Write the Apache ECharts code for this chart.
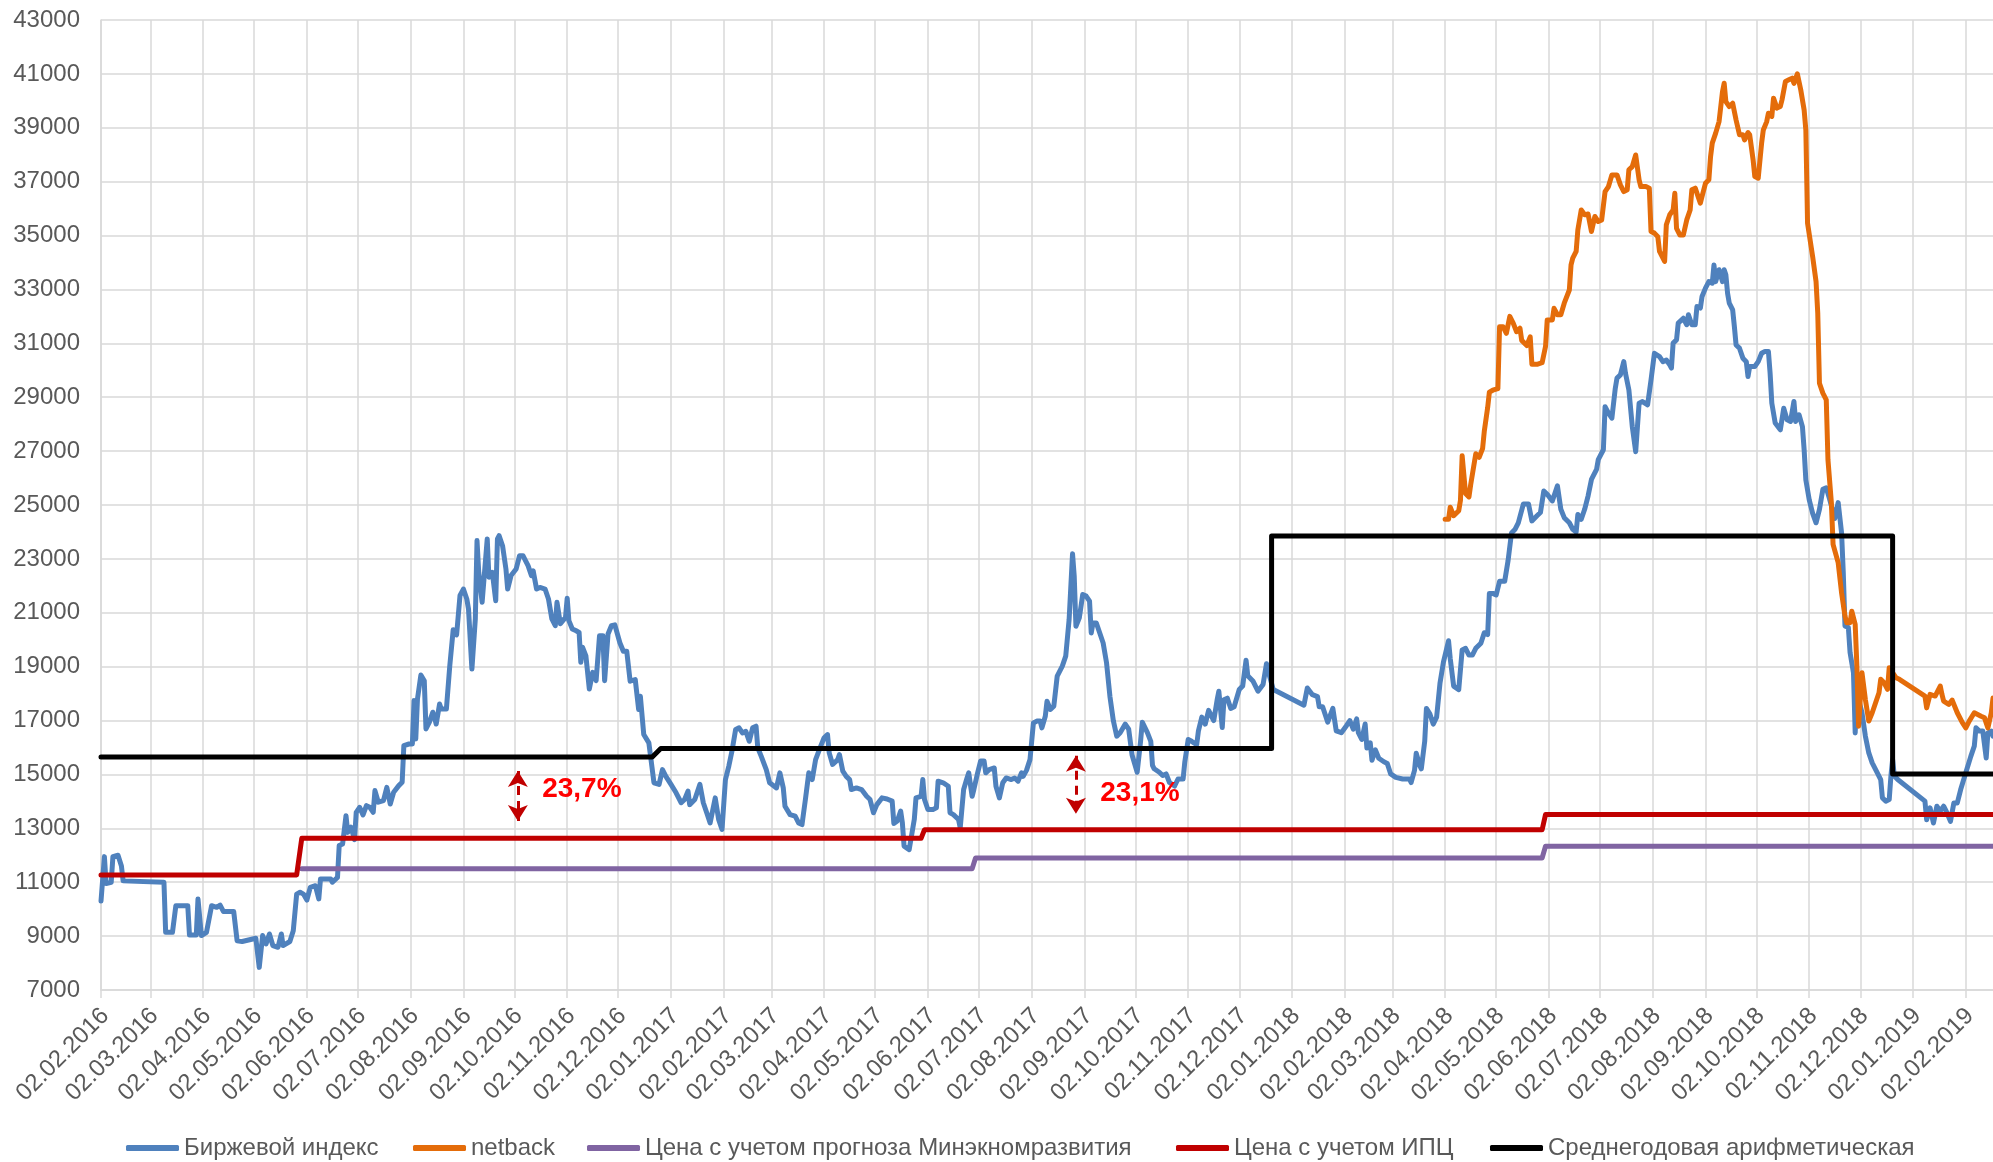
<!DOCTYPE html>
<html><head><meta charset="utf-8">
<script src="https://cdn.jsdelivr.net/npm/echarts@6/dist/echarts.min.js"></script>
<style>html,body{margin:0;padding:0;background:#fff}#c{width:1993px;height:1162px}</style>
</head><body><div id="c"></div>
<script>
const xTickLabels = ['02.02.2016','02.03.2016','02.04.2016','02.05.2016','02.06.2016','02.07.2016','02.08.2016','02.09.2016','02.10.2016','02.11.2016','02.12.2016',
'02.01.2017','02.02.2017','02.03.2017','02.04.2017','02.05.2017','02.06.2017','02.07.2017','02.08.2017','02.09.2017','02.10.2017','02.11.2017','02.12.2017',
'02.01.2018','02.02.2018','02.03.2018','02.04.2018','02.05.2018','02.06.2018','02.07.2018','02.08.2018','02.09.2018','02.10.2018','02.11.2018','02.12.2018',
'02.01.2019','02.02.2019'];
const yTickValues = [7000,9000,11000,13000,15000,17000,19000,21000,23000,25000,27000,29000,31000,33000,35000,37000,39000,41000,43000];
const xRange = ['2016-02-02','2019-02-18'];

const seriesNames = ['Биржевой индекс','netback','Цена с учетом прогноза Минэкномразвития','Цена с учетом ИПЦ','Среднегодовая арифметическая'];

const birzhevoyIndex = [
["2016-02-02",10300],["2016-02-04",11950],["2016-02-05",10950],["2016-02-08",11000],["2016-02-09",11950],["2016-02-12",12000],["2016-02-14",11600],["2016-02-15",11050],
["2016-03-10",11000],["2016-03-11",9140],["2016-03-15",9140],["2016-03-17",10130],["2016-03-24",10130],["2016-03-25",9040],["2016-03-29",9040],["2016-03-30",10380],
["2016-04-01",9020],["2016-04-04",9140],["2016-04-07",10130],["2016-04-10",10070],["2016-04-12",10150],["2016-04-14",9910],["2016-04-20",9910],["2016-04-22",8830],["2016-04-25",8800],
["2016-05-03",8920],["2016-05-05",7840],["2016-05-07",9020],["2016-05-09",8710],["2016-05-11",9080],["2016-05-13",8650],["2016-05-16",8585],["2016-05-18",9080],["2016-05-19",8650],["2016-05-23",8800],["2016-05-25",9200],["2016-05-27",10560],["2016-05-29",10630],["2016-05-31",10560],
["2016-06-02",10340],["2016-06-04",10810],["2016-06-07",10870],["2016-06-09",10380],["2016-06-10",11120],["2016-06-16",11120],["2016-06-17",11000],["2016-06-20",11180],["2016-06-21",12360],["2016-06-23",12420],["2016-06-25",13470],["2016-06-26",12850],["2016-06-28",13040],["2016-06-30",12580],
["2016-07-01",13595],["2016-07-03",13780],["2016-07-05",13500],["2016-07-07",13840],["2016-07-09",13780],["2016-07-11",13595],["2016-07-12",14400],["2016-07-14",13970],["2016-07-17",14030],["2016-07-19",14520],["2016-07-21",13900],["2016-07-22",13870],["2016-07-23",14340],["2016-07-26",14585],["2016-07-28",14710],["2016-07-29",16070],
["2016-08-01",16130],["2016-08-03",16130],["2016-08-04",17740],["2016-08-05",16320],["2016-08-06",17800],["2016-08-08",18690],["2016-08-10",18480],["2016-08-11",16690],["2016-08-13",16940],["2016-08-15",17310],["2016-08-16",17120],["2016-08-17",16870],["2016-08-19",17615],["2016-08-20",17430],["2016-08-23",17430],["2016-08-25",19040],["2016-08-27",20370],["2016-08-29",20180],["2016-08-31",21640],
["2016-09-02",21880],["2016-09-04",21510],["2016-09-05",21140],["2016-09-07",18910],["2016-09-09",20770],["2016-09-10",23680],["2016-09-11",22500],["2016-09-13",21390],["2016-09-14",21360],["2016-09-16",23740],["2016-09-17",22320],["2016-09-19",22500],["2016-09-21",21450],["2016-09-22",23740],["2016-09-23",23860],["2016-09-25",23490],["2016-09-27",22625],["2016-09-28",21880],["2016-09-30",22380],
["2016-10-03",22625],["2016-10-05",23120],["2016-10-07",23120],["2016-10-10",22750],["2016-10-12",22380],["2016-10-13",22560],["2016-10-15",21880],["2016-10-17",21940],["2016-10-20",21880],["2016-10-22",21510],["2016-10-24",20770],["2016-10-26",20520],["2016-10-27",21390],["2016-10-29",20590],
["2016-11-01",20830],["2016-11-02",21540],["2016-11-03",20710],["2016-11-05",20400],["2016-11-07",20340],["2016-11-09",20270],["2016-11-10",19160],["2016-11-11",19720],["2016-11-13",19400],["2016-11-15",18170],["2016-11-17",18790],["2016-11-19",18480],["2016-11-21",20150],["2016-11-23",20150],["2016-11-24",18480],["2016-11-26",20210],["2016-11-28",20520],["2016-11-30",20550],
["2016-12-03",19880],["2016-12-05",19570],["2016-12-07",19570],["2016-12-09",18460],["2016-12-10",18460],["2016-12-12",18520],["2016-12-14",17410],["2016-12-15",17900],["2016-12-17",16480],["2016-12-20",16170],["2016-12-21",15680],["2016-12-23",14690],["2016-12-26",14630],["2016-12-28",15180],["2016-12-30",14930],
["2017-01-02",14630],["2017-01-05",14320],["2017-01-08",13950],["2017-01-10",14070],["2017-01-12",14380],["2017-01-13",13880],["2017-01-16",14070],["2017-01-19",14630],["2017-01-21",13950],["2017-01-23",13580],["2017-01-25",13200],["2017-01-28",14130],["2017-01-30",13330],
["2017-02-01",12960],["2017-02-03",14810],["2017-02-05",15310],["2017-02-07",15920],["2017-02-09",16670],["2017-02-11",16730],["2017-02-13",16540],["2017-02-15",16600],["2017-02-17",16230],["2017-02-19",16730],["2017-02-21",16790],["2017-02-22",15990],["2017-02-24",15680],["2017-02-27",15180],
["2017-03-01",14690],["2017-03-05",14500],["2017-03-07",15060],["2017-03-09",14500],["2017-03-10",13820],["2017-03-13",13510],["2017-03-16",13450],["2017-03-18",13200],["2017-03-20",13140],["2017-03-22",14070],["2017-03-24",15060],["2017-03-26",14810],["2017-03-28",15550],["2017-03-31",16050],
["2017-04-02",16360],["2017-04-04",16480],["2017-04-05",15800],["2017-04-07",15370],["2017-04-10",15550],["2017-04-11",15740],["2017-04-13",15120],["2017-04-15",14930],["2017-04-17",14810],["2017-04-18",14440],["2017-04-21",14500],["2017-04-24",14440],["2017-04-27",14190],["2017-04-29",14070],
["2017-05-01",13580],["2017-05-03",13880],["2017-05-06",14130],["2017-05-09",14090],["2017-05-12",14010],["2017-05-13",13180],["2017-05-15",13270],["2017-05-17",13640],["2017-05-18",13200],["2017-05-19",12340],["2017-05-20",12270],["2017-05-22",12210],["2017-05-23",12210],["2017-05-25",13330],["2017-05-26",14130],["2017-05-29",14190],["2017-05-30",14810],["2017-05-31",14070],
["2017-06-02",13700],["2017-06-05",13700],["2017-06-07",13760],["2017-06-08",14750],["2017-06-11",14690],["2017-06-14",14560],["2017-06-15",13580],["2017-06-17",13510],["2017-06-18",13450],["2017-06-20",13330],["2017-06-21",13020],["2017-06-23",14440],["2017-06-25",14870],["2017-06-26",15060],["2017-06-28",14190],["2017-06-29",14440],
["2017-07-01",15000],["2017-07-03",15500],["2017-07-05",15500],["2017-07-06",15060],["2017-07-08",15180],["2017-07-11",15240],["2017-07-12",14560],["2017-07-14",14130],["2017-07-16",14690],["2017-07-18",14870],["2017-07-21",14810],["2017-07-23",14870],["2017-07-25",14750],["2017-07-27",15060],["2017-07-28",14930],["2017-07-30",15160],
["2017-08-01",15550],["2017-08-03",16910],["2017-08-05",16980],["2017-08-07",16980],["2017-08-08",16730],["2017-08-10",17160],["2017-08-11",17720],["2017-08-13",17410],["2017-08-15",17530],["2017-08-17",18650],["2017-08-20",19020],["2017-08-22",19390],["2017-08-24",20750],["2017-08-26",23190],["2017-08-27",22360],["2017-08-28",20500],["2017-08-30",20810],
["2017-09-01",21680],["2017-09-03",21620],["2017-09-05",21430],["2017-09-06",20250],["2017-09-07",20620],["2017-09-09",20620],["2017-09-11",20250],["2017-09-13",19880],["2017-09-15",19140],["2017-09-17",17890],["2017-09-19",16990],["2017-09-21",16420],["2017-09-23",16550],["2017-09-26",16870],["2017-09-28",16680],["2017-09-30",15720],
["2017-10-03",15080],["2017-10-05",16230],["2017-10-06",16940],["2017-10-09",16550],["2017-10-11",16230],["2017-10-12",15340],["2017-10-13",15210],["2017-10-16",15080],["2017-10-18",14960],["2017-10-20",15020],["2017-10-22",14700],["2017-10-25",14570],["2017-10-27",14830],["2017-10-30",14830],["2017-10-31",15470],
["2017-11-02",16300],["2017-11-04",16230],["2017-11-07",16110],["2017-11-08",16620],["2017-11-10",17130],["2017-11-12",16870],["2017-11-14",17380],["2017-11-17",17000],["2017-11-19",17770],["2017-11-20",18090],["2017-11-22",16740],["2017-11-23",17770],["2017-11-25",17830],["2017-11-27",17450],["2017-11-29",17510],
["2017-12-02",18150],["2017-12-04",18280],["2017-12-06",19240],["2017-12-07",18660],["2017-12-10",18470],["2017-12-13",18090],["2017-12-16",18340],["2017-12-18",19110],["2017-12-20",18600],["2017-12-22",18150],
["2018-01-09",17570],["2018-01-11",18210],["2018-01-14",17960],["2018-01-17",17890],["2018-01-18",17510],["2018-01-20",17510],["2018-01-23",16940],["2018-01-26",17450],["2018-01-28",16620],["2018-01-31",16550],
["2018-02-03",16810],["2018-02-05",17000],["2018-02-07",16680],["2018-02-09",17060],["2018-02-10",16550],["2018-02-12",16300],["2018-02-14",16870],["2018-02-15",15980],["2018-02-17",16170],["2018-02-18",15530],["2018-02-20",15910],["2018-02-22",15600],["2018-02-25",15470],["2018-02-27",15410],
["2018-03-01",15020],["2018-03-04",14890],["2018-03-08",14830],["2018-03-12",14830],["2018-03-13",14700],["2018-03-15",15150],["2018-03-16",15790],["2018-03-18",15340],["2018-03-19",15210],["2018-03-21",16230],["2018-03-22",17450],["2018-03-24",17250],["2018-03-26",16870],["2018-03-28",17130],["2018-03-30",18400],
["2018-04-01",19170],["2018-04-04",19960],["2018-04-05",19300],["2018-04-07",18280],["2018-04-10",18150],["2018-04-12",19620],["2018-04-14",19680],["2018-04-16",19430],["2018-04-18",19430],["2018-04-20",19680],["2018-04-23",19870],["2018-04-25",20260],["2018-04-27",20190],["2018-04-28",21720],["2018-04-30",21720],
["2018-05-02",21660],["2018-05-04",22170],["2018-05-07",22170],["2018-05-09",22940],["2018-05-11",23960],["2018-05-13",24090],["2018-05-15",24340],["2018-05-18",25040],["2018-05-21",25040],["2018-05-23",24410],["2018-05-26",24600],["2018-05-28",24720],["2018-05-30",25520],
["2018-06-01",25400],["2018-06-04",25150],["2018-06-07",25710],["2018-06-09",24840],["2018-06-11",24530],["2018-06-14",24340],["2018-06-16",24100],["2018-06-18",24000],["2018-06-19",24650],["2018-06-21",24470],["2018-06-23",24840],["2018-06-25",25330],["2018-06-27",25950],["2018-06-28",25890],["2018-06-30",26320],
["2018-07-01",26680],["2018-07-04",27050],["2018-07-05",28650],["2018-07-07",28410],["2018-07-09",28220],["2018-07-11",29330],["2018-07-12",29710],["2018-07-14",29830],["2018-07-16",30320],["2018-07-17",29890],["2018-07-19",29270],["2018-07-21",27910],["2018-07-23",26980],["2018-07-25",28780],["2018-07-27",28840],["2018-07-30",28720],
["2018-08-01",29640],["2018-08-03",30630],["2018-08-06",30510],["2018-08-08",30320],["2018-08-10",30380],["2018-08-12",30200],["2018-08-13",30080],["2018-08-14",31010],["2018-08-16",31130],["2018-08-17",31750],["2018-08-20",31930],["2018-08-22",31690],["2018-08-23",32060],["2018-08-25",31690],["2018-08-27",31690],["2018-08-28",32370],["2018-08-30",32310],["2018-08-31",32740],
["2018-09-02",33050],["2018-09-04",33290],["2018-09-06",33230],["2018-09-07",33910],["2018-09-08",33290],["2018-09-10",33730],["2018-09-12",33290],["2018-09-13",33730],["2018-09-14",33540],["2018-09-15",32860],["2018-09-16",32490],["2018-09-18",32240],["2018-09-19",31620],["2018-09-20",30940],["2018-09-22",30820],["2018-09-24",30450],["2018-09-26",30320],["2018-09-27",29770],["2018-09-28",30140],
["2018-10-01",30140],["2018-10-03",30320],["2018-10-05",30630],["2018-10-07",30700],["2018-10-09",30700],["2018-10-10",29890],["2018-10-11",28780],["2018-10-13",28040],["2018-10-16",27790],["2018-10-18",28590],["2018-10-20",28160],["2018-10-22",28100],["2018-10-24",28840],["2018-10-25",28100],["2018-10-27",28350],["2018-10-29",27910],["2018-10-30",27050],["2018-10-31",25930],
["2018-11-02",25190],["2018-11-04",24690],["2018-11-06",24340],["2018-11-08",24840],["2018-11-10",25580],["2018-11-12",25640],["2018-11-14",25210],["2018-11-17",24500],["2018-11-19",25090],["2018-11-21",23970],["2018-11-22",22490],["2018-11-23",20510],["2018-11-25",20450],["2018-11-26",19520],["2018-11-28",18770],["2018-11-29",16540],["2018-11-30",18030],
["2018-12-03",17290],["2018-12-05",16420],["2018-12-07",15800],["2018-12-09",15430],["2018-12-12",15060],["2018-12-14",14810],["2018-12-15",14130],["2018-12-17",14010],["2018-12-19",14070],["2018-12-20",14940],["2018-12-21",15550],["2018-12-22",14940],["2018-12-24",14810],
["2019-01-09",14010],["2019-01-10",13320],["2019-01-12",13760],["2019-01-14",13200],["2019-01-16",13820],["2019-01-18",13640],["2019-01-20",13820],["2019-01-22",13570],["2019-01-24",13260],["2019-01-26",13940],["2019-01-28",13940],["2019-01-30",14440],
["2019-02-02",15060],["2019-02-05",15680],["2019-02-07",16050],["2019-02-08",16730],["2019-02-10",16610],["2019-02-12",16610],["2019-02-14",15610],["2019-02-15",16540],["2019-02-17",16610],["2019-02-18",16420]
];

const netback = [
["2018-04-02",24470],["2018-04-04",24470],["2018-04-05",24920],["2018-04-07",24600],["2018-04-10",24790],["2018-04-11",25170],["2018-04-12",26830],["2018-04-14",25430],["2018-04-16",25300],["2018-04-17",25750],["2018-04-18",25690],["2018-04-20",26900],["2018-04-22",26770],["2018-04-24",27090],["2018-04-25",27730],["2018-04-27",28620],["2018-04-28",29190],["2018-04-30",29260],
["2018-05-03",29320],["2018-05-04",31620],["2018-05-06",31620],["2018-05-08",31370],["2018-05-10",32000],["2018-05-12",31750],["2018-05-14",31430],["2018-05-16",31560],["2018-05-17",31110],["2018-05-20",30920],["2018-05-22",31240],["2018-05-23",30220],["2018-05-26",30220],["2018-05-29",30280],["2018-05-31",30880],
["2018-06-01",31870],["2018-06-04",31870],["2018-06-05",32300],["2018-06-07",32060],["2018-06-09",32060],["2018-06-11",32490],["2018-06-14",32980],["2018-06-15",33910],["2018-06-16",34160],["2018-06-18",34410],["2018-06-19",35210],["2018-06-21",35950],["2018-06-23",35770],["2018-06-25",35800],["2018-06-27",35150],["2018-06-29",35710],
["2018-07-01",35520],["2018-07-03",35580],["2018-07-05",36630],["2018-07-07",36820],["2018-07-09",37250],["2018-07-12",37250],["2018-07-14",36880],["2018-07-16",36630],["2018-07-18",36700],["2018-07-19",37440],["2018-07-21",37560],["2018-07-23",37990],["2018-07-25",37070],["2018-07-26",36820],["2018-07-29",36820],["2018-07-31",36760],
["2018-08-01",35150],["2018-08-03",35090],["2018-08-05",34960],["2018-08-06",34410],["2018-08-09",34040],["2018-08-10",35400],["2018-08-12",35770],["2018-08-14",35950],["2018-08-15",36570],["2018-08-16",35270],["2018-08-18",35020],["2018-08-20",35020],["2018-08-22",35580],["2018-08-24",35950],["2018-08-25",36700],["2018-08-27",36760],["2018-08-28",36760],["2018-08-30",36200],["2018-08-31",36450],
["2018-09-02",36940],["2018-09-04",37070],["2018-09-05",37930],["2018-09-06",38430],["2018-09-08",38800],["2018-09-10",39230],["2018-09-12",40340],["2018-09-13",40650],["2018-09-14",39970],["2018-09-16",39790],["2018-09-18",39910],["2018-09-20",39290],["2018-09-22",38740],["2018-09-24",38740],["2018-09-25",38550],["2018-09-27",38820],["2018-09-28",38740],["2018-09-30",37810],
["2018-10-01",37190],["2018-10-03",37130],["2018-10-05",38430],["2018-10-06",38920],["2018-10-08",39230],["2018-10-09",39540],["2018-10-11",39420],["2018-10-12",40100],["2018-10-14",39730],["2018-10-16",39790],["2018-10-17",40040],["2018-10-19",40720],["2018-10-21",40780],["2018-10-23",40840],["2018-10-24",40650],["2018-10-26",41000],["2018-10-28",40410],["2018-10-30",39660],["2018-10-31",38920],
["2018-11-01",35460],["2018-11-04",34220],["2018-11-06",33290],["2018-11-07",32120],["2018-11-08",29520],["2018-11-10",29150],["2018-11-12",28900],["2018-11-13",26680],["2018-11-15",25090],["2018-11-16",23540],["2018-11-19",22860],["2018-11-21",21740],["2018-11-23",20880],["2018-11-24",20630],["2018-11-26",20630],["2018-11-27",21060],["2018-11-29",20570],["2018-11-30",19020],
["2018-12-01",16790],["2018-12-03",18770],["2018-12-05",17780],["2018-12-07",16980],["2018-12-09",17290],["2018-12-11",17660],["2018-12-13",18030],["2018-12-14",18530],["2018-12-16",18400],["2018-12-18",18160],["2018-12-19",18960],["2018-12-23",18590],["2018-12-25",18530],
["2019-01-09",17910],["2019-01-10",17470],["2019-01-12",17970],["2019-01-15",17910],["2019-01-18",18280],["2019-01-19",17970],["2019-01-20",17720],["2019-01-23",17600],["2019-01-25",17760],["2019-01-28",17290],["2019-01-31",16920],
["2019-02-02",16730],["2019-02-04",16980],["2019-02-07",17290],["2019-02-11",17160],["2019-02-13",17100],["2019-02-15",16730],["2019-02-17",17290],["2019-02-18",17840]
];

const minekonomForecast = [["2016-05-30",11500],["2017-06-28",11500],["2017-06-30",11900],["2018-05-29",11900],["2018-05-31",12335],["2019-02-18",12335]];
const cpiPrice = [["2016-02-02",11270],["2016-05-27",11270],["2016-05-30",12630],["2017-05-29",12630],["2017-05-31",12950],["2018-05-29",12950],["2018-05-31",13510],["2019-02-18",13510]];
const annualAverage = [["2016-02-02",15650],["2016-12-22",15650],["2016-12-27",15960],["2017-12-21",15960],["2017-12-21",23850],["2018-12-21",23850],["2018-12-21",15020],["2019-02-18",15020]];

// gap annotations (data coordinates)
const gapDates = ['2016-10-04','2017-08-28'];
const gapTop = [15130,15695];
const gapBottom = [13270,13540];
const gapLabelDates = ['2016-10-18','2017-09-11'];
const gapLabelValues = [14460,14310];
const gapLabels = ['23,7%','23,1%'];

function ymd(s){const p=s.split('-').map(Number);return Date.UTC(p[0],p[1]-1,p[2]);}
function dmy(s){const p=s.split('.').map(Number);return Date.UTC(p[2],p[1]-1,p[0]);}
const toPts = arr => arr.map(d => [ymd(d[0]), d[1]]);
const xTicks = xTickLabels.map(dmy);
const labelMap = {}; xTicks.forEach((t,i)=>labelMap[t]=xTickLabels[i]);

const FONT = "'Liberation Sans', Arial, sans-serif";
const GRID = '#D9D9D9';
const colors = ['#4F81BD','#E46C0A','#8064A2','#C00000','#000000'];
const legendLefts = [126,413,587,1176,1490];
const datasets = [birzhevoyIndex, netback, minekonomForecast, cpiPrice, annualAverage];

const series = datasets.map((d,i)=>({
  name: seriesNames[i], type:'line', data: toPts(d), showSymbol:false, symbol:'none',
  lineStyle:{color:colors[i], width:5, cap:'round', join:'round'},
  itemStyle:{color:colors[i]}, silent:true, z: 2+i
}));

series[4].markLine = {
  silent:true, symbol:['arrow','arrow'], symbolSize:[15,16],
  lineStyle:{color:'#C00000', type:[9,6], width:3},
  label:{show:false},
  data: gapDates.map((d,i)=>[{coord:[ymd(d), gapTop[i]]},{coord:[ymd(d), gapBottom[i]]}])
};
series[4].markPoint = {
  silent:true, symbol:'circle', symbolSize:1, itemStyle:{color:'rgba(0,0,0,0)'},
  label:{show:true, position:'right', distance:0, color:'#FF0000', fontSize:28, fontWeight:'bold', fontFamily:FONT, formatter:p=>p.name},
  data: gapLabelDates.map((d,i)=>({name:gapLabels[i], coord:[ymd(d), gapLabelValues[i]]}))
};

const legends = seriesNames.map((n,i)=>({
  data:[{name:n, itemStyle:{color:colors[i]}}],
  left:legendLefts[i], top:1136, padding:0, icon:'roundRect', itemWidth:53, itemHeight:6,
  textStyle:{fontSize:24, color:'#595959', fontFamily:FONT},
  selectedMode:false
}));

const chart = echarts.init(document.getElementById('c'), null, {renderer:'canvas'});
chart.setOption({
  animation:false,
  backgroundColor:'#fff',
  textStyle:{fontFamily:FONT},
  grid:{left:101, right:0, top:20, bottom:172, containLabel:false},
  legend: legends,
  xAxis:{
    type:'value', min: ymd(xRange[0]), max: ymd(xRange[1]),
    axisLine:{show:true, lineStyle:{color:GRID, width:1.5}},
    axisTick:{show:true, customValues: xTicks, length:8, lineStyle:{color:GRID, width:1.5}},
    axisLabel:{customValues: xTicks, rotate:45, margin:18, verticalAlign:'top', lineHeight:12, fontSize:24, color:'#595959', fontFamily:FONT, hideOverlap:false,
      formatter: v => labelMap[v] || ''},
    splitLine:{show:true, lineStyle:{color:GRID, width:1.5}}
  },
  yAxis:{
    type:'value', min:7000, max:43000,
    axisLine:{show:true, lineStyle:{color:GRID, width:1.5}},
    axisTick:{show:false, customValues: yTickValues},
    axisLabel:{customValues: yTickValues, margin:21, fontSize:24, color:'#595959', fontFamily:FONT, formatter: v => String(v)},
    splitLine:{show:true, lineStyle:{color:GRID, width:1.5}}
  },
  series: series
});
</script>
</body></html>
